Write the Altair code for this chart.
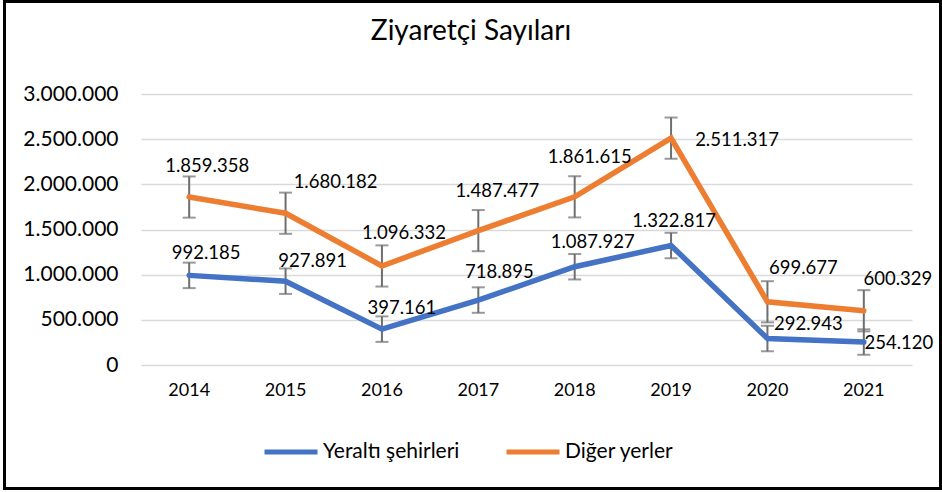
import altair as alt
import pandas as pd

years = ["2014", "2015", "2016", "2017", "2018", "2019", "2020", "2021"]
yeralti = [992185, 927891, 397161, 718895, 1087927, 1322817, 292943, 254120]
diger = [1859358, 1680182, 1096332, 1487477, 1861615, 2511317, 699677, 600329]
# error bar half-lengths (standard error)
yeralti_err = [141000] * 8
diger_err = [228000] * 8
series_names = ["Yeraltı şehirleri", "Diğer yerler"]
colors = ["#4472C4", "#ED7D31"]
title_text = "Ziyaretçi Sayıları"

# label offsets in pixels (style, kept apart from the data)
lab_dx = {"Yeraltı şehirleri": [17, 27, 20, 21, 18, 3, 41, 35],
          "Diğer yerler": [18, 50, 22, 19, 15, 66, 36, 34]}
lab_dy = {"Yeraltı şehirleri": [-22, -20, -21, -28, -25, -25, -15, 1],
          "Diğer yerler": [-31, -31, -33, -40, -40, 2, -34, -32]}


def fmt(v):
    return f"{v:,}".replace(",", ".")


rows = []
for name, vals, errs in [(series_names[0], yeralti, yeralti_err),
                         (series_names[1], diger, diger_err)]:
    for i, (yr, v, e) in enumerate(zip(years, vals, errs)):
        rows.append({"year": yr, "series": name, "value": v,
                     "lo": v - e, "hi": v + e, "label": fmt(v),
                     "dx": lab_dx[name][i], "dy": lab_dy[name][i]})
df = pd.DataFrame(rows)

W, H = 771, 271
FONT = "Lato"

x = alt.X("year:N", title=None, sort=years,
          scale=alt.Scale(paddingInner=0, paddingOuter=0, align=0.5),
          axis=alt.Axis(labelAngle=0, ticks=False, domain=False, grid=False,
                        labelFont=FONT, labelFontSize=18,
                        labelColor="#000000", labelPadding=16))
y = alt.Y("value:Q", title=None,
          scale=alt.Scale(domain=[0, 3000000], nice=False, zero=True),
          axis=alt.Axis(values=[0, 500000, 1000000, 1500000, 2000000, 2500000, 3000000],
                        labelExpr="replace(format(datum.value, ',d'), /,/g, '.')",
                        ticks=False, domain=False, gridColor="#D9D9D9", gridWidth=1.6,
                        labelFont=FONT, labelFontSize=21, labelColor="#000000",
                        labelPadding=23))
color = alt.Color("series:N", sort=series_names,
                  scale=alt.Scale(domain=series_names, range=colors),
                  legend=alt.Legend(title=None, orient="none", direction="horizontal",
                                    legendX=121, legendY=329, symbolType="stroke",
                                    symbolSize=2809, symbolStrokeWidth=5,
                                    labelFont=FONT, labelFontSize=21, labelColor="#000000",
                                    labelOffset=3, columnPadding=36, padding=0))

base = alt.Chart(df)

err_rule = base.mark_rule(color="#6E6E6E", strokeWidth=2).encode(
    x=x, y="lo:Q", y2="hi:Q")
cap_lo = base.mark_tick(color="#6E6E6E", thickness=2, size=13).encode(
    x=x, y=alt.Y("lo:Q"))
cap_hi = base.mark_tick(color="#6E6E6E", thickness=2, size=13).encode(
    x=x, y=alt.Y("hi:Q"))

lines = base.mark_line(strokeWidth=5.5, strokeCap="round", strokeJoin="miter").encode(
    x=x, y=y, color=color, order=alt.Order("year:N"))

labels = base.mark_text(font=FONT, fontSize=18.5, color="#000000", align="center",
                        baseline="middle",
                        dx=alt.ExprRef("datum.dx"), dy=alt.ExprRef("datum.dy")).encode(
    x=x, y="value:Q", text="label:N")

title = alt.Chart(pd.DataFrame({"t": [title_text]})).mark_text(
    font=FONT, fontSize=28, color="#000000", align="center", baseline="alphabetic").encode(
    x=alt.value(330), y=alt.value(-54.5), text="t:N")

frame = alt.Chart(pd.DataFrame({"k": [0]})).mark_rect(
    fill=None, stroke="#000000", strokeWidth=3).encode(
    x=alt.value(-136.5), x2=alt.value(W + 28.5),
    y=alt.value(-92.5), y2=alt.value(H + 123.5))

chart = alt.layer(err_rule, cap_lo, cap_hi, lines, labels, title, frame).properties(
    width=W, height=H,
    autosize=alt.AutoSizeParams(type="none"),
    padding={"left": 141, "top": 94, "right": 30, "bottom": 127},
    background="#FFFFFF",
).configure_view(stroke=None)

chart.save("out.html", embed_options={"renderer": "svg", "actions": False})
